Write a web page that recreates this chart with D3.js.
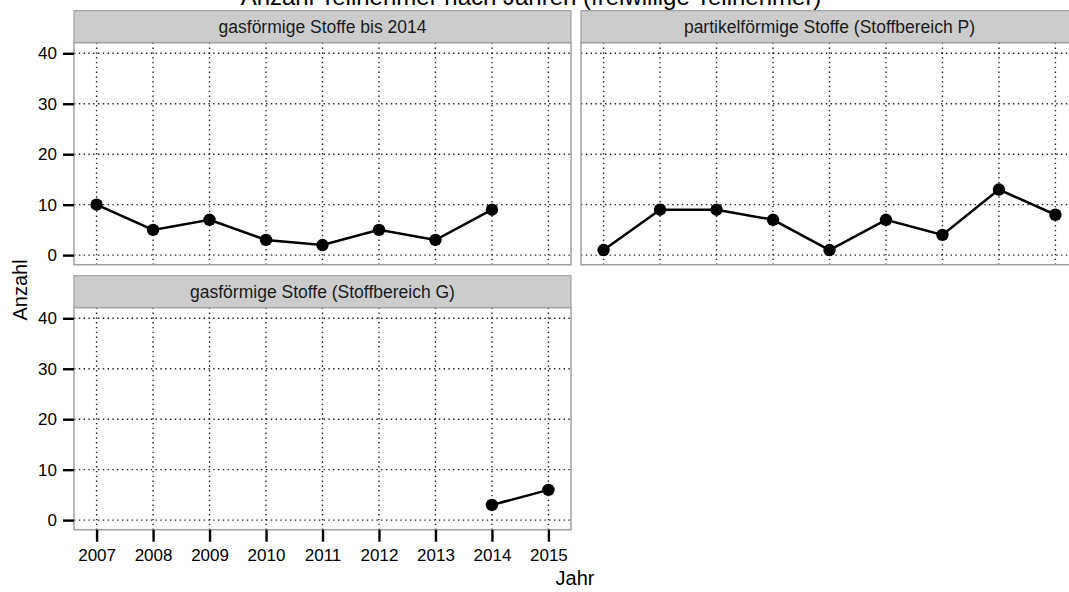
<!DOCTYPE html>
<html>
<head>
<meta charset="utf-8">
<script src="https://cdn.jsdelivr.net/npm/d3@7"></script>
<style>
  body { margin: 0; background: #ffffff; }
  text { font-family: "Liberation Sans", Arial, sans-serif; }
</style>
</head>
<body>
<div id="chart-area"></div>
<script>
var years = [2007, 2008, 2009, 2010, 2011, 2012, 2013, 2014, 2015];
var yTicks = [0, 10, 20, 30, 40];

var panelTitles = [
  "gasförmige Stoffe bis 2014",
  "partikelförmige Stoffe (Stoffbereich P)",
  "gasförmige Stoffe (Stoffbereich G)"
];
var gasBis2014Years = [2007, 2008, 2009, 2010, 2011, 2012, 2013, 2014];
var gasBis2014Values = [10, 5, 7, 3, 2, 5, 3, 9];
var partikelYears = [2007, 2008, 2009, 2010, 2011, 2012, 2013, 2014, 2015];
var partikelValues = [1, 9, 9, 7, 1, 7, 4, 13, 8];
var gasGYears = [2014, 2015];
var gasGValues = [3, 6];

var title = "Anzahl Teilnehmer nach Jahren (freiwillige Teilnehmer)";
var xLabel = "Jahr";
var yLabel = "Anzahl";

var W = 1069, H = 592;
var panelW = 497, plotH = 222, stripH = 32;

var xscale = d3.scaleLinear().domain([2006.6, 2015.4]).range([0, panelW]);
var yscale = d3.scaleLinear().domain([-1.9, 42.1]).range([plotH, 0]);

var svg = d3
  .select("#chart-area")
  .append("svg")
  .attr("xmlns", "http://www.w3.org/2000/svg")
  .attr("width", W)
  .attr("height", H);

// title, mostly cut off at the top like in the original
svg.append("text")
  .attr("x", 531)
  .attr("y", 5)
  .attr("text-anchor", "middle")
  .attr("font-size", "24px")
  .attr("fill", "#000")
  .text(title);

var panels = [
  { title: panelTitles[0], years: gasBis2014Years, values: gasBis2014Values, left: 74, top: 10.7, yAxis: true, xAxis: false },
  { title: panelTitles[1], years: partikelYears, values: partikelValues, left: 581, top: 10.7, yAxis: false, xAxis: false },
  { title: panelTitles[2], years: gasGYears, values: gasGValues, left: 74, top: 275.7, yAxis: true, xAxis: true }
];

panels.forEach(function (p) {
  var g = svg.append("g")
    .attr("transform", "translate(" + p.left + "," + p.top + ")");

  // strip
  g.append("rect")
    .attr("width", panelW)
    .attr("height", stripH)
    .attr("fill", "#cccccc")
    .attr("stroke", "#a0a0a0")
    .attr("stroke-width", 1.2);
  g.append("text")
    .attr("x", panelW / 2)
    .attr("y", stripH / 2)
    .attr("dy", "0.35em")
    .attr("text-anchor", "middle")
    .attr("font-size", "17.5px")
    .attr("fill", "#1a1a1a")
    .text(p.title);

  var pg = g.append("g").attr("transform", "translate(0," + stripH + ")");

  pg.append("rect")
    .attr("width", panelW)
    .attr("height", plotH)
    .attr("fill", "#ffffff");

  // dotted grid
  pg.selectAll(".vgrid")
    .data(years)
    .enter()
    .append("line")
    .attr("class", "vgrid")
    .attr("x1", function (d) { return xscale(d); })
    .attr("x2", function (d) { return xscale(d); })
    .attr("y1", 0)
    .attr("y2", plotH)
    .attr("stroke", "#222")
    .attr("stroke-width", 1.4)
    .attr("stroke-dasharray", "1.4,3.4");
  pg.selectAll(".hgrid")
    .data(yTicks)
    .enter()
    .append("line")
    .attr("class", "hgrid")
    .attr("x1", 0)
    .attr("x2", panelW)
    .attr("y1", function (d) { return yscale(d); })
    .attr("y2", function (d) { return yscale(d); })
    .attr("stroke", "#222")
    .attr("stroke-width", 1.4)
    .attr("stroke-dasharray", "1.4,3.4");

  // border
  pg.append("rect")
    .attr("width", panelW)
    .attr("height", plotH)
    .attr("fill", "none")
    .attr("stroke", "#a0a0a0")
    .attr("stroke-width", 1.5);

  if (p.yAxis) {
    var yAxis = d3.axisLeft(yscale)
      .tickValues(yTicks)
      .tickSize(11)
      .tickPadding(6);
    var ya = pg.append("g").attr("class", "y-axis").call(yAxis);
    ya.select(".domain").remove();
    ya.selectAll(".tick line").attr("stroke", "#000").attr("stroke-width", 2.4);
    ya.selectAll(".tick text")
      .attr("font-size", "17px")
      .attr("font-family", "Liberation Sans, Arial, sans-serif")
      .attr("fill", "#000");
  }

  if (p.xAxis) {
    var xAxis = d3.axisBottom(xscale)
      .tickValues(years)
      .tickFormat(d3.format("d"))
      .tickSize(12)
      .tickPadding(7);
    var xa = pg.append("g")
      .attr("class", "x-axis")
      .attr("transform", "translate(0," + plotH + ")")
      .call(xAxis);
    xa.select(".domain").remove();
    xa.selectAll(".tick line").attr("stroke", "#000").attr("stroke-width", 2.4);
    xa.selectAll(".tick text")
      .attr("font-size", "17px")
      .attr("font-family", "Liberation Sans, Arial, sans-serif")
      .attr("fill", "#000");
  }

  var pts = p.years.map(function (d, i) { return { year: d, value: p.values[i] }; });

  var line = d3.line()
    .x(function (d) { return xscale(d.year); })
    .y(function (d) { return yscale(d.value); });

  pg.append("path")
    .datum(pts)
    .attr("d", line)
    .attr("fill", "none")
    .attr("stroke", "#000")
    .attr("stroke-width", 2.5);

  pg.selectAll(".dot")
    .data(pts)
    .enter()
    .append("circle")
    .attr("class", "dot")
    .attr("cx", function (d) { return xscale(d.year); })
    .attr("cy", function (d) { return yscale(d.value); })
    .attr("r", 6.2)
    .attr("fill", "#000");
});

// axis labels
svg.append("text")
  .attr("x", 575)
  .attr("y", 585)
  .attr("text-anchor", "middle")
  .attr("font-size", "20px")
  .attr("fill", "#000")
  .text(xLabel);

svg.append("text")
  .attr("transform", "translate(27,290) rotate(-90)")
  .attr("text-anchor", "middle")
  .attr("font-size", "20px")
  .attr("fill", "#000")
  .text(yLabel);
</script>
</body>
</html>
